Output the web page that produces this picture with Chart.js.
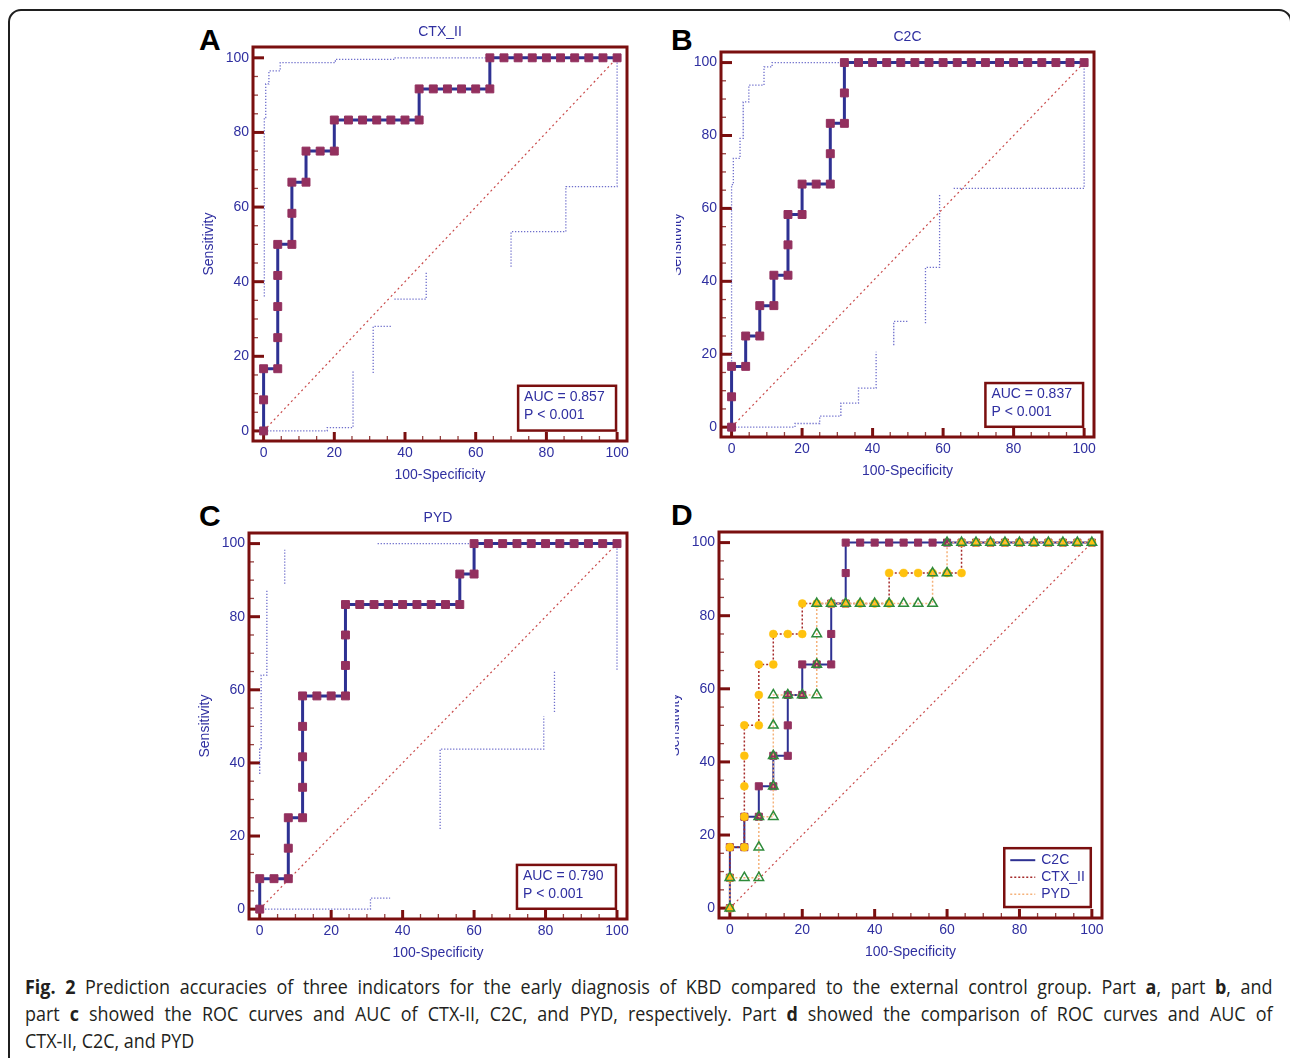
<!DOCTYPE html>
<html>
<head>
<meta charset="utf-8">
<script src="https://cdn.jsdelivr.net/npm/chart.js@4.4.1/dist/chart.umd.min.js"></script>
<style>
  html, body { margin: 0; padding: 0; background: #fff; }
  body { width: 1290px; height: 1058px; position: relative; overflow: hidden; }
  .page { position: absolute; left: 8px; top: 9px; width: 1284px; height: 1100px;
          border: 2px solid #1f1f1f; border-radius: 13px; box-sizing: border-box; }
  .letter { position: absolute; font: bold 30px "Liberation Sans", Arial, sans-serif;
            line-height: 30px; color: #000; }
  .clip { position: absolute; overflow: hidden; }
  canvas { position: absolute; }
  .caption { position: absolute; left: 25px; top: 973px; width: 1356px;
             transform: scaleX(0.92); transform-origin: 0 0;
             font: 19.5px "Open Sans", sans-serif; line-height: 27px; color: #231f20; }
  .caption div { text-align: justify; text-align-last: justify; }
  .caption div.last { text-align-last: left; }
</style>
</head>
<body>
<div class="page"></div>

<div class="letter" style="left:199px;top:25px;">A</div>
<div class="letter" style="left:671px;top:25px;">B</div>
<div class="letter" style="left:199px;top:501px;">C</div>
<div class="letter" style="left:671px;top:500px;">D</div>

<canvas id="chartA" width="452" height="476" style="left:190px;top:15px;"></canvas>
<div class="clip" style="left:676px;top:20px;width:433px;height:467px;">
  <canvas id="chartB" width="451" height="467" style="left:-18px;top:0;"></canvas>
</div>
<canvas id="chartC" width="456" height="468" style="left:186px;top:501px;"></canvas>
<div class="clip" style="left:675px;top:512px;width:442px;height:456px;">
  <canvas id="chartD" width="461" height="456" style="left:-19px;top:0;"></canvas>
</div>

<div class="caption">
  <div><b>Fig. 2</b> Prediction accuracies of three indicators for the early diagnosis of KBD compared to the external control group. Part <b>a</b>, part <b>b</b>, and</div>
  <div>part <b>c</b> showed the ROC curves and AUC of CTX-II, C2C, and PYD, respectively. Part <b>d</b> showed the comparison of ROC curves and AUC of</div>
  <div class="last">CTX-II, C2C, and PYD</div>
</div>

<script>
// ROC curves: 100-Specificity (x) and Sensitivity (y), in %
const ctxFpr = [0, 0, 0, 4, 4, 4, 4, 4, 8, 8, 8, 12, 12, 16, 20, 20, 24, 28, 32, 36, 40, 44, 44, 48, 52, 56, 60, 64, 64, 68, 72, 76, 80, 84, 88, 92, 96, 100];
const ctxSens = [0, 8.33, 16.67, 16.67, 25, 33.33, 41.67, 50, 50, 58.33, 66.67, 66.67, 75, 75, 75, 83.33, 83.33, 83.33, 83.33, 83.33, 83.33, 83.33, 91.67, 91.67, 91.67, 91.67, 91.67, 91.67, 100, 100, 100, 100, 100, 100, 100, 100, 100, 100];

const c2cFpr = [0, 0, 0, 4, 4, 8, 8, 12, 12, 16, 16, 16, 20, 20, 24, 28, 28, 28, 32, 32, 32, 36, 40, 44, 48, 52, 56, 60, 64, 68, 72, 76, 80, 84, 88, 92, 96, 100];
const c2cSens = [0, 8.33, 16.67, 16.67, 25, 25, 33.33, 33.33, 41.67, 41.67, 50, 58.33, 58.33, 66.67, 66.67, 66.67, 75, 83.33, 83.33, 91.67, 100, 100, 100, 100, 100, 100, 100, 100, 100, 100, 100, 100, 100, 100, 100, 100, 100, 100];

const pydFpr = [0, 0, 4, 8, 8, 8, 12, 12, 12, 12, 12, 16, 20, 24, 24, 24, 24, 28, 32, 36, 40, 44, 48, 52, 56, 56, 60, 60, 64, 68, 72, 76, 80, 84, 88, 92, 96, 100];
const pydSens = [0, 8.33, 8.33, 8.33, 16.67, 25, 25, 33.33, 41.67, 50, 58.33, 58.33, 58.33, 58.33, 66.67, 75, 83.33, 83.33, 83.33, 83.33, 83.33, 83.33, 83.33, 83.33, 83.33, 91.67, 91.67, 100, 100, 100, 100, 100, 100, 100, 100, 100, 100, 100];

// 95% confidence bounds (null = gap in the dotted line)
const ctxUpperX = [0.2, 0.2, 0.6, 0.6, 1.5, 1.5, 4.7, 4.7, 20.3, 20.3, 37, 37, 100];
const ctxUpperY = [36, 84, 84, 93, 93, 96.5, 96.5, 98.7, 98.7, 99.6, 99.6, 100, 100];
const ctxLowerX = [1, 18, 18, 25.3, 25.3, null, 31, 31, 36, null, 37, 46, 46, null, 70, 70, 85.5, 85.5, 100, 100];
const ctxLowerY = [0, 0, 0.9, 0.9, 16, null, 15.5, 28, 28, null, 35.3, 35.3, 42.5, null, 44, 53.4, 53.4, 65.5, 65.5, 99];

const c2cUpperX = [0, 0, 0.5, 0.5, 2.4, 2.4, 3.3, 3.3, 4.9, 4.9, 9.2, 9.2, 11.5, 11.5, 100];
const c2cUpperY = [18, 66.5, 66.5, 73.7, 73.7, 79.2, 79.2, 89.2, 89.2, 93.8, 93.8, 98.8, 98.8, 100, 100];
const c2cLowerX = [1, 18, 18, 25, 25, 31, 31, 36, 36, 41, 41, null, 46, 46, 50, null, 55, 55, 59, 59, null, 63, 100, 100];
const c2cLowerY = [0, 0, 1, 1, 3, 3, 6.6, 6.6, 10.7, 10.7, 20.7, null, 22.5, 29, 29, null, 28.5, 43.8, 43.8, 64, null, 65.5, 65.5, 99];

const pydUpperX = [0, 0, 0.4, 0.4, 2, 2, null, 7, 7, null, 33, 100];
const pydUpperY = [37, 44, 44, 64, 64, 87.5, null, 89, 98.3, null, 100, 100];
const pydLowerX = [1.5, 31, 31, 36.5, null, 50.5, 50.5, 79.5, 79.5, null, 82.5, 82.5, null, 100, 100];
const pydLowerY = [0, 0, 3, 3, null, 21.9, 43.8, 43.8, 52.8, null, 53.9, 65.1, null, 65.5, 100];

const diagX = [0, 100];
const diagY = [0, 100];

const axisTicks = [0, 20, 40, 60, 80, 100];

const blue = "#2e3192";
const textBlue = "#2f2fa0";
const maroon = "#93305e";
const frameRed = "#7a0f0f";
const ciBlue = "#6f6fcc";
const diagRed = "#c94a4a";
const fontFamily = '"Liberation Sans", Arial, sans-serif';

Chart.defaults.font.family = fontFamily;
Chart.defaults.font.size = 14;

const pts = (xs, ys) => xs.map((x, i) => ({ x: x, y: ys[i] }));

// frame, inner tick marks, panel title, AUC box and legend
const rocFrame = {
  id: "rocFrame",
  beforeDatasetsDraw(chart) {
    const { ctx, chartArea: a, scales: { x, y } } = chart;
    ctx.save();
    for (let v = 0; v <= 100; v += 5) {
      const major = v % 20 === 0;
      ctx.strokeStyle = major ? frameRed : "#94403f";
      ctx.lineWidth = major ? 3 : 1.3;
      const py = y.getPixelForValue(v);
      ctx.beginPath();
      ctx.moveTo(a.left, py);
      ctx.lineTo(a.left + (major ? 11 : 5), py);
      ctx.stroke();
      const px = x.getPixelForValue(v);
      ctx.beginPath();
      ctx.moveTo(px, a.bottom);
      ctx.lineTo(px, a.bottom - (major ? 9 : 5));
      ctx.stroke();
    }
    ctx.restore();
  },
  afterDatasetsDraw(chart, args, opts) {
    const { ctx, chartArea: a, scales: { x, y } } = chart;
    ctx.save();
    ctx.font = "14px " + fontFamily;
    ctx.textBaseline = "middle";
    if (opts.title) {
      ctx.fillStyle = textBlue;
      ctx.textAlign = "center";
      ctx.fillText(opts.title, (a.left + a.right) / 2, a.top - 15);
      ctx.textAlign = "left";
    }
    if (opts.auc) {
      const x1 = x.getPixelForValue(72), x2 = x.getPixelForValue(99.7);
      const y1 = y.getPixelForValue(12.1), y2 = y.getPixelForValue(0.1);
      ctx.fillStyle = "#fff";
      ctx.fillRect(x1, y1, x2 - x1, y2 - y1);
      ctx.strokeStyle = frameRed;
      ctx.lineWidth = 2.5;
      ctx.strokeRect(x1, y1, x2 - x1, y2 - y1);
      ctx.fillStyle = textBlue;
      ctx.fillText("AUC = " + opts.auc, x1 + 6, y1 + 11);
      ctx.fillText("P < 0.001", x1 + 6, y1 + 29);
    }
    if (opts.legend) {
      const x1 = x.getPixelForValue(75.8), x2 = x.getPixelForValue(99.7);
      const y1 = y.getPixelForValue(16.4), y2 = y.getPixelForValue(0.3);
      ctx.fillStyle = "#fff";
      ctx.fillRect(x1, y1, x2 - x1, y2 - y1);
      ctx.strokeStyle = frameRed;
      ctx.lineWidth = 2.5;
      ctx.strokeRect(x1, y1, x2 - x1, y2 - y1);
      const shown = chart.data.datasets.filter((d) => d.inLegend);
      shown.forEach((d, i) => {
        const ry = y1 + 12 + i * 17;
        ctx.strokeStyle = d.borderColor;
        ctx.lineWidth = d.borderWidth;
        ctx.setLineDash(d.borderDash || []);
        ctx.beginPath();
        ctx.moveTo(x1 + 6, ry);
        ctx.lineTo(x1 + 31, ry);
        ctx.stroke();
        ctx.setLineDash([]);
        ctx.fillStyle = textBlue;
        ctx.fillText(d.label, x1 + 37, ry);
      });
    }
    ctx.restore();
  },
  afterDraw(chart) {
    const { ctx, chartArea: a } = chart;
    ctx.save();
    ctx.strokeStyle = frameRed;
    ctx.lineWidth = 3;
    ctx.strokeRect(a.left, a.top, a.right - a.left, a.bottom - a.top);
    ctx.restore();
  }
};

function scaleOptions() {
  return {
    x: {
      type: "linear",
      min: -3,
      max: 102.8,
      afterBuildTicks: (axis) => { axis.ticks = axisTicks.map((v) => ({ value: v })); },
      afterFit: (axis) => { axis.height = 50; },
      grid: { display: false, drawTicks: false },
      border: { display: false },
      ticks: { color: textBlue, padding: 4, maxRotation: 0, autoSkip: false, font: { size: 14 } },
      title: { display: true, text: "100-Specificity", color: textBlue, font: { size: 14 }, padding: { top: 0, bottom: 7 } }
    },
    y: {
      type: "linear",
      min: -2.7,
      max: 102.9,
      afterBuildTicks: (axis) => { axis.ticks = axisTicks.map((v) => ({ value: v })); },
      afterFit: (axis) => { axis.width = 63; },
      grid: { display: false, drawTicks: false },
      border: { display: false },
      ticks: { color: textBlue, padding: 4, autoSkip: false, font: { size: 14 } },
      title: { display: true, text: "Sensitivity", color: textBlue, font: { size: 14 }, padding: { top: 10.6, bottom: 0 } }
    }
  };
}

function singlePanel(id, name, fpr, sens, upX, upY, loX, loY, auc) {
  new Chart(document.getElementById(id), {
    type: "scatter",
    data: {
      datasets: [
        {
          label: name,
          data: pts(fpr, sens),
          showLine: true,
          borderColor: blue,
          borderWidth: 3,
          pointStyle: "rect",
          pointRadius: 5.6,
          pointBackgroundColor: maroon,
          pointBorderColor: maroon,
          pointBorderWidth: 1,
          order: 0
        },
        {
          label: "diagonal",
          data: pts(diagX, diagY),
          showLine: true,
          borderColor: diagRed,
          borderWidth: 1.2,
          borderDash: [2, 3],
          pointRadius: 0,
          order: 2
        },
        {
          label: "upper 95% CI",
          data: pts(upX, upY),
          showLine: true,
          spanGaps: false,
          borderColor: ciBlue,
          borderWidth: 1.3,
          borderDash: [1.3, 1.7],
          pointRadius: 0,
          order: 3
        },
        {
          label: "lower 95% CI",
          data: pts(loX, loY),
          showLine: true,
          spanGaps: false,
          borderColor: ciBlue,
          borderWidth: 1.3,
          borderDash: [1.3, 1.7],
          pointRadius: 0,
          order: 3
        }
      ]
    },
    options: {
      responsive: false,
      animation: false,
      devicePixelRatio: 1,
      layout: { padding: { left: 0, right: 15, top: 32, bottom: 0 } },
      scales: scaleOptions(),
      plugins: {
        legend: { display: false },
        tooltip: { enabled: false },
        title: { display: false },
        rocFrame: { auc: auc, title: name }
      }
    },
    plugins: [rocFrame]
  });
}

singlePanel("chartA", "CTX_II", ctxFpr, ctxSens, ctxUpperX, ctxUpperY, ctxLowerX, ctxLowerY, "0.857");
singlePanel("chartB", "C2C", c2cFpr, c2cSens, c2cUpperX, c2cUpperY, c2cLowerX, c2cLowerY, "0.837");
singlePanel("chartC", "PYD", pydFpr, pydSens, pydUpperX, pydUpperY, pydLowerX, pydLowerY, "0.790");

// Panel D: comparison of the three curves
new Chart(document.getElementById("chartD"), {
  type: "scatter",
  data: {
    datasets: [
      {
        label: "C2C",
        inLegend: true,
        data: pts(c2cFpr, c2cSens),
        showLine: true,
        borderColor: blue,
        borderWidth: 2,
        pointStyle: "rect",
        pointRadius: 5,
        pointBackgroundColor: maroon,
        pointBorderColor: maroon,
        pointBorderWidth: 1,
        order: 2
      },
      {
        label: "CTX_II",
        inLegend: true,
        data: pts(ctxFpr, ctxSens),
        showLine: true,
        borderColor: "#a52a2a",
        borderWidth: 1.5,
        borderDash: [2, 2],
        pointStyle: "circle",
        pointRadius: 4,
        pointBackgroundColor: "#ffc20e",
        pointBorderColor: "#ffc20e",
        pointBorderWidth: 0.5,
        order: 1
      },
      {
        label: "PYD",
        inLegend: true,
        data: pts(pydFpr, pydSens),
        showLine: true,
        borderColor: "#f5b27a",
        borderWidth: 1.5,
        borderDash: [2, 2],
        pointStyle: "triangle",
        pointRadius: 5.5,
        pointBackgroundColor: "rgba(255,255,255,0)",
        pointBorderColor: "#2e8b3a",
        pointBorderWidth: 1.5,
        order: 0
      },
      {
        label: "diagonal",
        data: pts(diagX, diagY),
        showLine: true,
        borderColor: diagRed,
        borderWidth: 1.2,
        borderDash: [2, 3],
        pointRadius: 0,
        order: 3
      }
    ]
  },
  options: {
    responsive: false,
    animation: false,
    devicePixelRatio: 1,
    layout: { padding: { left: 0, right: 15, top: 20, bottom: 0 } },
    scales: scaleOptions(),
    plugins: {
      legend: { display: false },
      tooltip: { enabled: false },
      title: { display: false },
      rocFrame: { legend: true }
    }
  },
  plugins: [rocFrame]
});
</script>
</body>
</html>
